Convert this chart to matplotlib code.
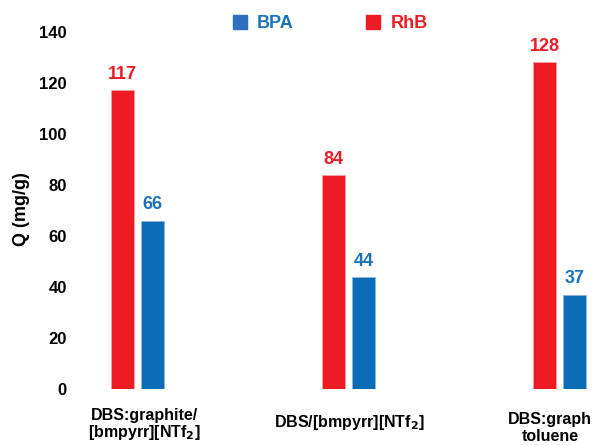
import matplotlib.pyplot as plt
import numpy as np
from matplotlib.lines import Line2D

plt.rcParams['font.family'] = ['Liberation Sans', 'DejaVu Sans']
plt.rcParams['font.weight'] = 'bold'

# adsorption capacity per adsorbent
categories = ["DBS:graphite/\n[bmpyrr][NTf$_2$]", "DBS/[bmpyrr][NTf$_2$]", "DBS:graph\ntoluene"]
rhb = [117, 84, 128]
bpa = [66, 44, 37]
y_ticks = [0, 20, 40, 60, 80, 100, 120, 140]

red = '#ED1C24'
blue = '#0B6DB8'
blue_txt = '#1A73BA'

fig = plt.figure(figsize=(5.95, 4.46), dpi=100)
ax = fig.add_axes([75/595, 57/446, 520/595, 357.3/446])

x = np.arange(len(categories))
w = 0.109
off = 0.071
ax.bar(x - off, rhb, w, color=red, edgecolor='#F6A0A3', linewidth=0.6)
ax.bar(x + off, bpa, w, color=blue, edgecolor='#8DB6DD', linewidth=0.6)

for xi, v in zip(x, rhb):
    ax.annotate(str(v), (xi - off, v), xytext=(0, 8), textcoords='offset points',
                ha='center', va='baseline', color=red, fontsize=13, fontweight='bold')
for xi, v in zip(x, bpa):
    ax.annotate(str(v), (xi + off, v), xytext=(0, 8), textcoords='offset points',
                ha='center', va='baseline', color=blue_txt, fontsize=13, fontweight='bold')

# category names under each group
label_dx = [0.031, 0.005, -0.047]
label_dy = [-36, -34, -39]
label_ls = [0.95, 1.0, 1.1]
for xi, name, dx, dy, ls in zip(x, categories, label_dx, label_dy, label_ls):
    ax.annotate(name, (xi + dx, 0), xycoords=('data', 'axes fraction'),
                xytext=(0, dy), textcoords='offset pixels', ha='center', va='center',
                fontsize=11.5, fontweight='bold', linespacing=ls, annotation_clip=False)

ax.set_xlim(-0.296, 2.166)
ax.set_ylim(0, 140)
ax.set_yticks(y_ticks)
ax.set_xticks([])
ax.tick_params(axis='y', length=0, pad=5.8, labelsize=12)
for s in ax.spines.values():
    s.set_visible(False)

fig.text(22/595, 1 - 209/446, "Q (mg/g)", rotation=90, ha='center', va='center',
         fontsize=13, fontweight='bold')

handles = [Line2D([], [], marker='s', ls='none', color='#2F6FBF', markersize=10),
           Line2D([], [], marker='s', ls='none', color=red, markersize=10)]
fig.legend(handles, ['BPA', 'RhB'], loc='center', bbox_to_anchor=(330/595, 1 - 24/446),
           ncol=2, frameon=False, handlelength=0.8, handletextpad=0.55,
           columnspacing=4.0, labelcolor=[blue_txt, red],
           prop={'size': 13, 'weight': 'bold'})

fig.savefig('out.png', dpi=100)
